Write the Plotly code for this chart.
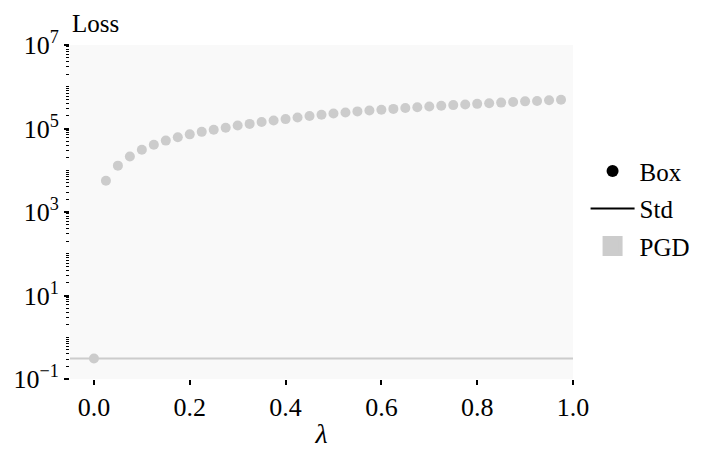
import plotly.graph_objects as go

# ---- data ----
lambdas = [0.0, 0.025, 0.05, 0.075, 0.1, 0.125, 0.15, 0.175, 0.2, 0.225, 0.25,
           0.275, 0.3, 0.325, 0.35, 0.375, 0.4, 0.425, 0.45, 0.475, 0.5,
           0.525, 0.55, 0.575, 0.6, 0.625, 0.65, 0.675, 0.7, 0.725, 0.75,
           0.775, 0.8, 0.825, 0.85, 0.875, 0.9, 0.925, 0.95, 0.975]
box_log10_loss = [-0.51, 3.75, 4.11, 4.33, 4.49, 4.61, 4.71, 4.79, 4.86, 4.92, 4.97,
                  5.02, 5.07, 5.11, 5.155, 5.19, 5.225, 5.265, 5.30, 5.33, 5.36,
                  5.385, 5.41, 5.43, 5.45, 5.47, 5.49, 5.51, 5.525, 5.545, 5.56,
                  5.575, 5.59, 5.605, 5.62, 5.635, 5.65, 5.66, 5.675, 5.69]
box_loss = [10 ** v for v in box_log10_loss]
std_loss = 10 ** -0.51

x_range = [-0.05, 1.0]
y_range_log = [-1, 7]
y_tickvals = [1e-1, 1e1, 1e3, 1e5, 1e7]
y_ticktext = ["10<sup>−1</sup>", "10<sup>1</sup>", "10<sup>3</sup>", "10<sup>5</sup>", "10<sup>7</sup>"]
x_tickvals = [0.0, 0.2, 0.4, 0.6, 0.8, 1.0]
x_ticktext = ["0.0", "0.2", "0.4", "0.6", "0.8", "1.0"]

GRAY = "#cccccc"
FONT = "Liberation Serif"
FS = 26

minor_vals = []
for e in range(-1, 7):
    for k in range(1, 10):
        v = k * 10 ** e
        if v not in y_tickvals:
            minor_vals.append(v)

fig = go.Figure()

# actual data
fig.add_trace(go.Scatter(x=x_range, y=[std_loss, std_loss], mode="lines",
                         line=dict(color=GRAY, width=2), showlegend=False,
                         hoverinfo="skip"))
fig.add_trace(go.Scatter(x=lambdas, y=box_loss, mode="markers",
                         marker=dict(color=GRAY, size=10), showlegend=False))

# legend entries
fig.add_trace(go.Scatter(x=[None], y=[None], mode="markers", name="Box",
                         marker=dict(color="black", size=12), legendgroup="a"))
fig.add_trace(go.Scatter(x=[None], y=[None], mode="lines", name="Std",
                         line=dict(color="black", width=2), legendgroup="b"))
fig.add_trace(go.Scatter(x=[None], y=[None], mode="markers", name="PGD",
                         marker=dict(color=GRAY, size=16, symbol="square",
                                     line=dict(color=GRAY, width=4)),
                         legendgroup="c"))

fig.update_layout(
    width=724, height=454,
    margin=dict(l=70, r=151, t=45, b=75, autoexpand=False),
    paper_bgcolor="white",
    plot_bgcolor="#f9f9f9",
    font=dict(family=FONT, size=FS, color="black"),
    showlegend=True,
    legend=dict(x=1.025, y=0.51, xanchor="left", yanchor="middle",
                font=dict(family=FONT, size=FS - 1), tracegroupgap=2,
                bgcolor="rgba(0,0,0,0)", itemwidth=44),
    xaxis=dict(range=x_range, showgrid=False, zeroline=False, showline=False,
               automargin=False,
               tickmode="array", tickvals=x_tickvals, ticktext=x_ticktext,
               ticks="outside", ticklen=5, tickwidth=1.5, tickcolor="black",
               tickfont=dict(family=FONT, size=FS),
               title=dict(text="<i>λ</i>", font=dict(family=FONT, size=FS + 2), standoff=2)),
    yaxis=dict(type="log", range=y_range_log, showgrid=False, zeroline=False,
               showline=False, automargin=False,
               tickmode="array", tickvals=y_tickvals,
               ticktext=y_ticktext, ticks="outside", ticklen=5, tickwidth=1.5,
               tickcolor="black", tickfont=dict(family=FONT, size=FS),
               minor=dict(tickmode="array", tickvals=minor_vals, ticks="outside",
                          ticklen=3, tickwidth=1, tickcolor="black")),
    annotations=[dict(text="Loss", xref="paper", yref="paper", x=0, y=1,
                      xanchor="left", yanchor="bottom", yshift=6, showarrow=False,
                      font=dict(family=FONT, size=FS - 1))],
)

fig.write_html("out.html", config={"displayModeBar": False},
               post_script="document.body.style.margin='0';")
